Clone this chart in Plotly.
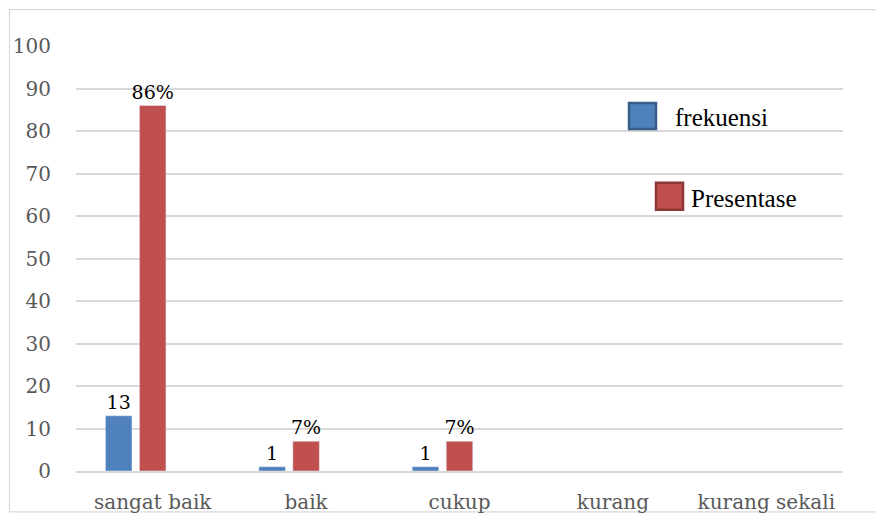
import plotly.graph_objects as go

categories = ["sangat baik", "baik", "cukup", "kurang", "kurang sekali"]
frekuensi = [13, 1, 1, None, None]
presentase = [86, 7, 7, None, None]
frekuensi_labels = ["13", "1", "1", "", ""]
presentase_labels = ["86%", "7%", "7%", "", ""]
y_ticks = [0, 10, 20, 30, 40, 50, 60, 70, 80, 90, 100]

BLUE = "#4F81BD"
RED = "#C0504D"
GRID = "#D9D9D9"
label_font = dict(family="DejaVu Serif", size=19, color="#000000")

fig = go.Figure()
fig.add_trace(go.Bar(
    x=categories, y=frekuensi, name="frekuensi", marker_color=BLUE,
    text=frekuensi_labels, textposition="outside", textfont=label_font,
    constraintext="none", cliponaxis=False, showlegend=False,
))
fig.add_trace(go.Bar(
    x=categories, y=presentase, name="Presentase", marker_color=RED,
    text=presentase_labels, textposition="outside", textfont=label_font,
    constraintext="none", cliponaxis=False, showlegend=False,
))
# empty third series slot (as in the original clustered chart)
fig.add_trace(go.Bar(
    x=categories, y=[None] * len(categories), name="", showlegend=False,
    hoverinfo="skip",
))

L, R, T, B = 76, 33, 46, 43.5
W, H = 876, 515
pw, ph = W - L - R, H - T - B

def px_x(p):
    return (p - L) / pw

def px_y(p):
    return (H - B - p) / ph

shapes = [
    # outer chart border
    dict(type="rect", xref="paper", yref="paper",
         x0=px_x(9.5), x1=px_x(885), y0=px_y(512.5), y1=px_y(9.5),
         line=dict(color=GRID, width=1.2), fillcolor="rgba(0,0,0,0)", layer="below"),
    # legend swatches
    dict(type="rect", xref="paper", yref="paper",
         x0=px_x(629), x1=px_x(656), y0=px_y(129), y1=px_y(103),
         line=dict(color="#385D8A", width=2.5), fillcolor=BLUE),
    dict(type="rect", xref="paper", yref="paper",
         x0=px_x(656), x1=px_x(683), y0=px_y(210), y1=px_y(183),
         line=dict(color="#8C3836", width=2.5), fillcolor=RED),
]
legend_font = dict(family="Liberation Serif", size=25, color="#000000")
annotations = [
    dict(text="frekuensi", xref="paper", yref="paper", x=px_x(673), y=px_y(118),
         xanchor="left", yanchor="middle", showarrow=False, font=legend_font),
    dict(text="Presentase", xref="paper", yref="paper", x=px_x(689), y=px_y(199),
         xanchor="left", yanchor="middle", showarrow=False, font=legend_font),
]

fig.update_layout(
    width=W, height=H,
    margin=dict(l=L, r=R, t=T, b=B, pad=0, autoexpand=False),
    paper_bgcolor="white", plot_bgcolor="white",
    barmode="group", bargap=0.335, bargroupgap=0.22,
    shapes=shapes, annotations=annotations,
    xaxis=dict(
        automargin=False,
        showgrid=False, showline=True, linecolor=GRID, linewidth=1.5,
        ticks="outside", ticklen=12, tickcolor="rgba(0,0,0,0)",
        tickfont=dict(family="DejaVu Serif", size=20, color="#595959"),
    ),
    yaxis=dict(
        automargin=False,
        range=[0, 100], tickvals=y_ticks, showgrid=True, gridcolor=GRID, gridwidth=1.5,
        zeroline=False, showline=False,
        ticks="outside", ticklen=20, tickcolor="rgba(0,0,0,0)",
        tickfont=dict(family="DejaVu Serif", size=20, color="#595959"),
    ),
)

fig.write_html("out.html", config={"displayModeBar": False},
               post_script="document.body.style.margin='0';")
